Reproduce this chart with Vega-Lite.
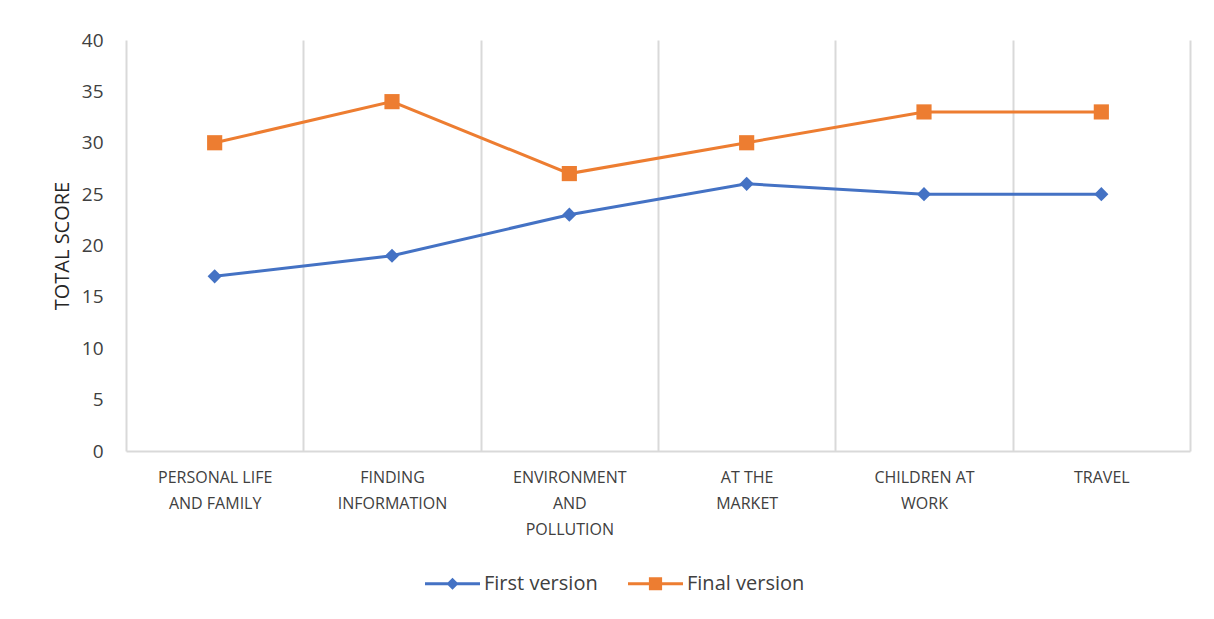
{
  "$schema": "https://vega.github.io/schema/vega-lite/v6.json",
  "width": 1064,
  "height": 411,
  "autosize": {"type": "none"},
  "padding": {"left": 126, "top": 40, "right": 24, "bottom": 168},
  "background": "white",
  "config": {
    "view": {"stroke": null},
    "font": "Open Sans"
  },
  "data": {
    "values": [
      {"topic": "PERSONAL LIFE AND FAMILY", "series": "First version", "score": 17},
      {"topic": "FINDING INFORMATION", "series": "First version", "score": 19},
      {"topic": "ENVIRONMENT AND POLLUTION", "series": "First version", "score": 23},
      {"topic": "AT THE MARKET", "series": "First version", "score": 26},
      {"topic": "CHILDREN AT WORK", "series": "First version", "score": 25},
      {"topic": "TRAVEL", "series": "First version", "score": 25},
      {"topic": "PERSONAL LIFE AND FAMILY", "series": "Final version", "score": 30},
      {"topic": "FINDING INFORMATION", "series": "Final version", "score": 34},
      {"topic": "ENVIRONMENT AND POLLUTION", "series": "Final version", "score": 27},
      {"topic": "AT THE MARKET", "series": "Final version", "score": 30},
      {"topic": "CHILDREN AT WORK", "series": "Final version", "score": 33},
      {"topic": "TRAVEL", "series": "Final version", "score": 33}
    ]
  },
  "encoding": {
    "x": {
      "field": "topic",
      "type": "nominal",
      "sort": null,
      "scale": {"type": "band", "paddingInner": 0, "paddingOuter": 0},
      "axis": {
        "title": null,
        "tickBand": "extent",
        "ticks": false,
        "grid": true,
        "gridColor": "#d9d9d9",
        "gridWidth": 2,
        "domainColor": "#d9d9d9",
        "domainWidth": 2,
        "labelAngle": 0,
        "labelFont": "Open Sans",
        "labelFontSize": 16,
        "labelColor": "#404040",
        "labelPadding": 18,
        "labelLineHeight": 26,
        "labelBaseline": "top",
        "labelExpr": "datum.value == 'PERSONAL LIFE AND FAMILY' ? ['PERSONAL LIFE', 'AND FAMILY'] : datum.value == 'FINDING INFORMATION' ? ['FINDING', 'INFORMATION'] : datum.value == 'ENVIRONMENT AND POLLUTION' ? ['ENVIRONMENT', 'AND', 'POLLUTION'] : datum.value == 'AT THE MARKET' ? ['AT THE', 'MARKET'] : datum.value == 'CHILDREN AT WORK' ? ['CHILDREN AT', 'WORK'] : datum.value"
      }
    },
    "y": {
      "field": "score",
      "type": "quantitative",
      "scale": {"domain": [0, 40], "nice": false},
      "axis": {
        "title": "TOTAL SCORE",
        "titleFont": "Open Sans",
        "titleFontSize": 20,
        "titleFontWeight": "normal",
        "titleColor": "#262626",
        "titlePadding": 9,
        "values": [0, 5, 10, 15, 20, 25, 30, 35, 40],
        "ticks": false,
        "domain": false,
        "grid": false,
        "labelFont": "Open Sans",
        "labelFontSize": 19,
        "labelColor": "#404040",
        "labelPadding": 23
      }
    },
    "color": {
      "field": "series",
      "type": "nominal",
      "sort": ["First version", "Final version"],
      "scale": {"domain": ["First version", "Final version"], "range": ["#4472C4", "#ED7D31"]},
      "legend": {
        "title": null,
        "orient": "none",
        "legendX": 299,
        "legendY": 516,
        "direction": "horizontal",
        "labelFont": "Open Sans",
        "labelFontSize": 20,
        "labelColor": "#404040",
        "labelOffset": 4,
        "columnPadding": 30,
        "symbolSize": 3025,
        "symbolStrokeWidth": 0,
        "symbolOpacity": 1
      }
    }
  },
  "layer": [
    {"mark": {"type": "line", "strokeWidth": 3}},
    {
      "transform": [{"filter": "datum.series === 'First version'"}],
      "mark": {"type": "point", "filled": true, "opacity": 1, "shape": "diamond", "size": 200}
    },
    {
      "transform": [{"filter": "datum.series === 'Final version'"}],
      "mark": {"type": "point", "filled": true, "opacity": 1, "shape": "square", "size": 230}
    },
    {
      "mark": {"type": "point", "filled": true, "opacity": 0, "size": 3025},
      "encoding": {
        "shape": {
          "field": "series",
          "type": "nominal",
          "sort": ["First version", "Final version"],
          "scale": {
            "domain": ["First version", "Final version"],
            "range": [
              "M-1,-0.055H1V0.055H-1Z M0,-0.22L0.22,0L0,0.22L-0.22,0Z",
              "M-1,-0.055H1V0.055H-1Z M-0.24,-0.24H0.24V0.24H-0.24Z"
            ]
          },
          "legend": {
            "title": null,
            "orient": "none",
            "legendX": 299,
            "legendY": 516,
            "direction": "horizontal",
            "labelFont": "Open Sans",
            "labelFontSize": 20,
            "labelColor": "#404040",
            "labelOffset": 4,
            "columnPadding": 30,
            "symbolSize": 3025,
            "symbolStrokeWidth": 0,
            "symbolOpacity": 1
          }
        }
      }
    }
  ]
}
